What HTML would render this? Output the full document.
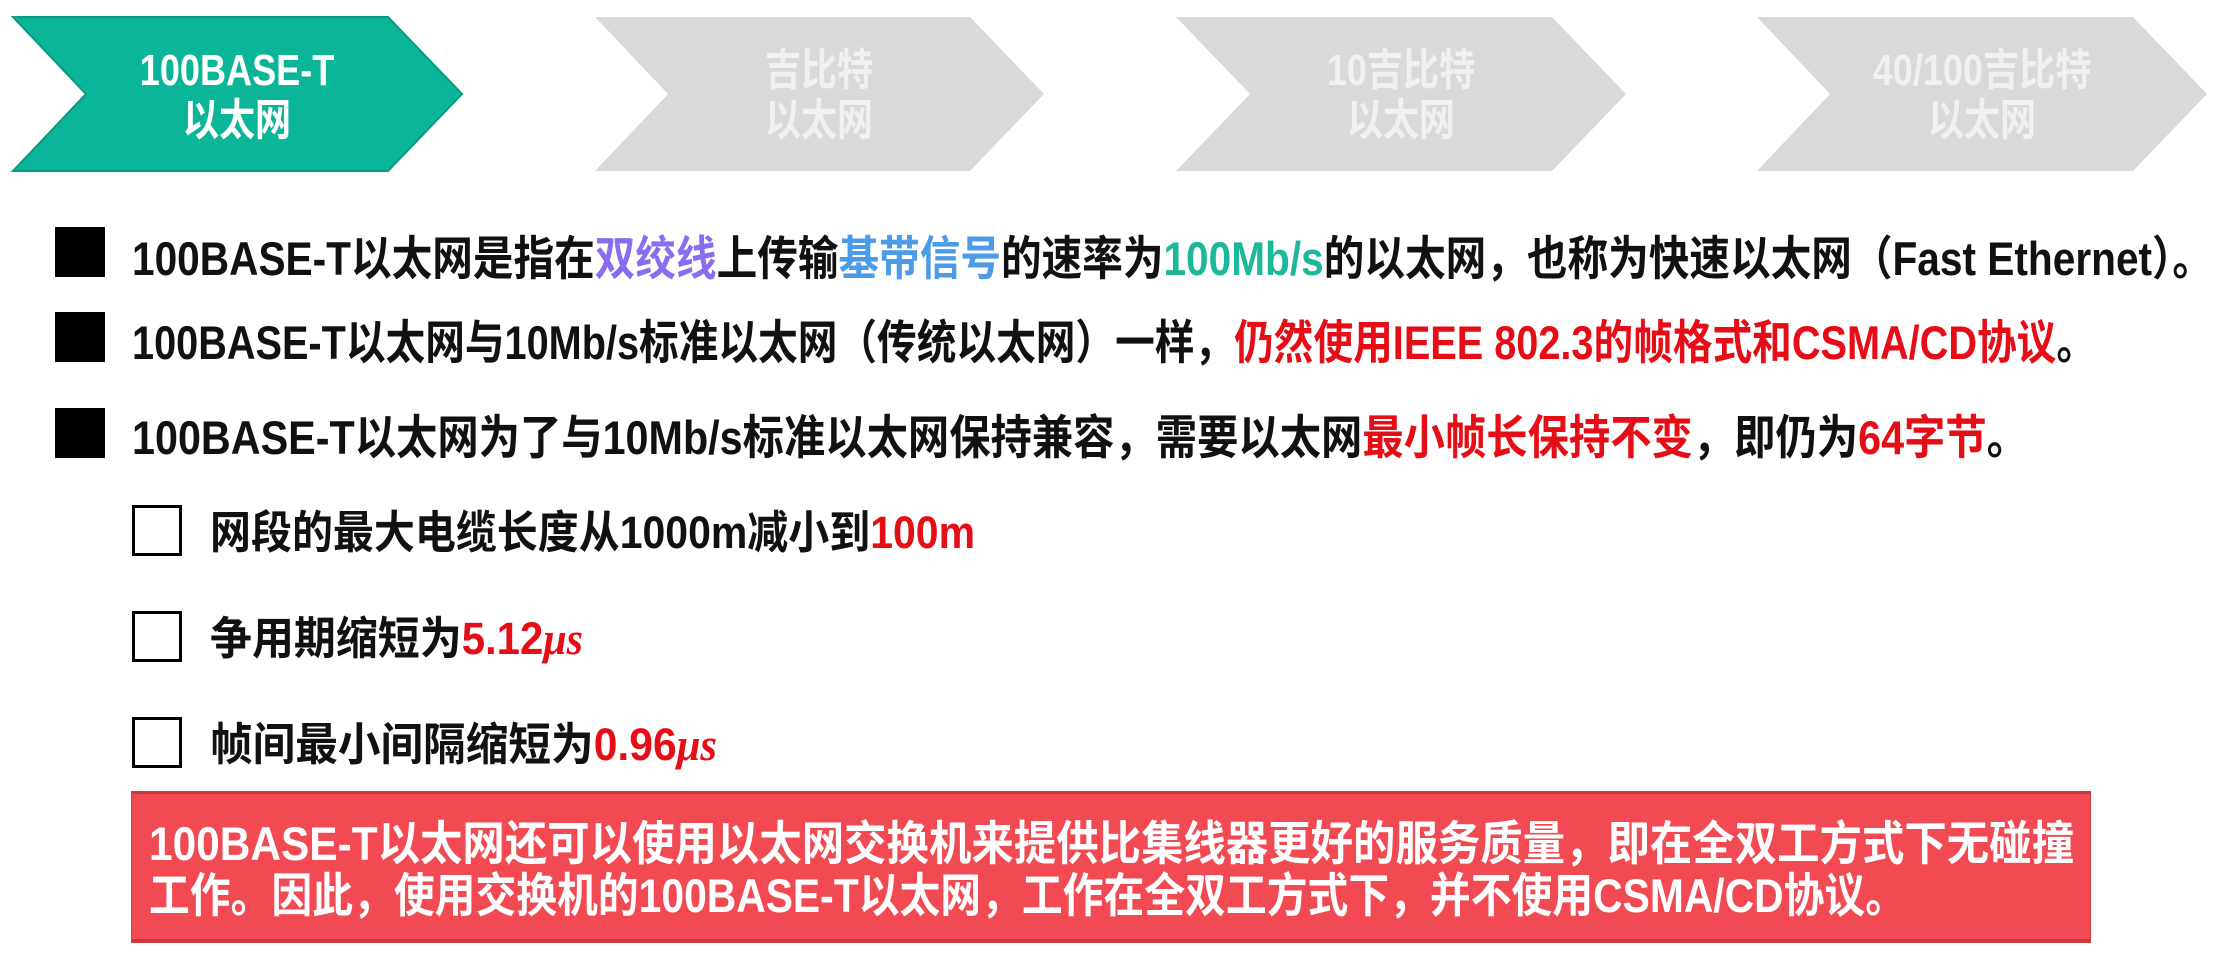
<!DOCTYPE html>
<html><head><meta charset="utf-8">
<style>
html,body{margin:0;padding:0;background:#fff;}
body{width:2231px;height:971px;position:relative;overflow:hidden;font-family:"Liberation Sans","Noto Sans CJK SC",sans-serif;font-weight:bold;}
.t{position:absolute;white-space:nowrap;line-height:1;color:#111;transform-origin:0 0;}
.r{color:#e50d16;}
.ct{position:absolute;text-align:center;line-height:50px;font-size:44px;width:300px;transform:scaleX(0.82);}
.sq{position:absolute;background:#000;width:50px;height:50px;left:55px;}
.hb{position:absolute;border:3px solid #000;width:44px;height:45px;left:132px;box-sizing:content-box;}
.mu{font-family:"Liberation Serif",serif;font-style:italic;}
</style></head><body>
<svg style="position:absolute;left:0;top:0" width="2231" height="200">
<polygon points="13,17 388,17 462,94 388,171 13,171 86,94" fill="#0bb597" stroke="#0a9a80" stroke-width="2"/>
<polygon points="595,17 970,17 1044,94 970,171 595,171 668,94" fill="#d9d9d9"/>
<polygon points="1176,17 1552,17 1626,94 1552,171 1176,171 1250,94" fill="#d9d9d9"/>
<polygon points="1757,17 2133,17 2207,94 2133,171 1757,171 1830,94" fill="#d9d9d9"/>
</svg>
<div class="ct" style="left:87px;top:46px;color:#fff">100BASE-T<br>以太网</div>
<div class="ct" style="left:669px;top:46px;color:#f1f1f1">吉比特<br>以太网</div>
<div class="ct" style="left:1251px;top:46px;color:#f1f1f1">10吉比特<br>以太网</div>
<div class="ct" style="left:1832px;top:46px;color:#f1f1f1">40/100吉比特<br>以太网</div>

<div class="sq" style="top:227px"></div>
<div class="sq" style="top:312px"></div>
<div class="sq" style="top:408px"></div>

<div id="a1" class="t" style="left:132px;top:235px;font-size:47px">100BASE-T以太网是指在<span style="color:#8a6cf0">双绞线</span>上传输<span style="color:#4b9be6">基带信号</span>的速率为<span style="color:#1db899">100Mb/s</span>的以太网，也称为快速以太网（Fast Ethernet）。</div>
<div id="a2" class="t" style="left:132px;top:319px;font-size:47px">100BASE-T以太网与10Mb/s标准以太网（传统以太网）一样，<span class="r">仍然使用IEEE 802.3的帧格式和CSMA/CD协议</span>。</div>
<div id="a3" class="t" style="left:132px;top:414px;font-size:47px">100BASE-T以太网为了与10Mb/s标准以太网保持兼容，需要以太网<span class="r">最小帧长保持不变</span>，即仍为<span class="r">64字节</span>。</div>

<div class="hb" style="top:505px"></div>
<div class="hb" style="top:611px"></div>
<div class="hb" style="top:717px"></div>

<div id="b1" class="t" style="left:210px;top:510px;font-size:45px">网段的最大电缆长度从1000m减小到<span class="r">100m</span></div>
<div id="b2" class="t" style="left:210px;top:616px;font-size:45px">争用期缩短为<span class="r">5.12<span class="mu">μs</span></span></div>
<div id="b3" class="t" style="left:210px;top:722px;font-size:45px">帧间最小间隔缩短为<span class="r">0.96<span class="mu">μs</span></span></div>

<div style="position:absolute;left:131px;top:791px;width:1960px;height:152px;background:#f24a52;border-top:3px solid #c9393f;border-bottom:4px solid #c9393f;box-sizing:border-box;border-left:1px solid #d8434a;border-right:1px solid #d8434a"></div>
<div id="c1" class="t" style="left:149px;top:820px;font-size:47px;color:#fff">100BASE-T以太网还可以使用以太网交换机来提供比集线器更好的服务质量，即在全双工方式下无碰撞</div>
<div id="c2" class="t" style="left:149px;top:872px;font-size:47px;color:#fff">工作。因此，使用交换机的100BASE-T以太网，工作在全双工方式下，并不使用CSMA/CD协议。</div>
<script>
(function(){
var m=[["a1",2081],["a2",1964],["a3",1896],["b1",765],["b2",373],["b3",507],["c1",1925],["c2",1757]];
for(var i=0;i<m.length;i++){var e=document.getElementById(m[i][0]);var w=e.getBoundingClientRect().width;if(w>0){e.style.transform="scaleX("+(m[i][1]/w)+")";}}
})();
</script>
</body></html>
